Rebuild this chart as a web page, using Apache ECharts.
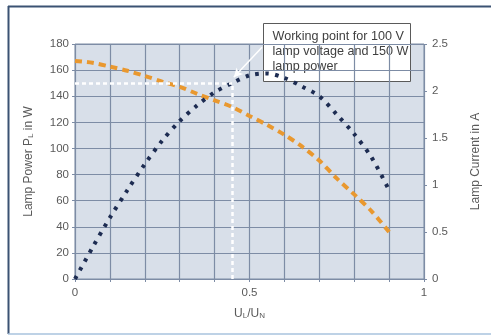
<!DOCTYPE html>
<html>
<head>
<meta charset="utf-8">
<script src="https://cdn.jsdelivr.net/npm/echarts@6/dist/echarts.min.js"></script>
<style>
  html, body { margin: 0; padding: 0; background: #ffffff; }
  #chart { width: 491px; height: 336px; }
</style>
</head>
<body>
<div id="chart"></div>
<script>
// Relative lamp voltage U_L/U_N
var voltageRatio = [0, 0.05, 0.1, 0.15, 0.2, 0.25, 0.3, 0.35, 0.4, 0.45, 0.5, 0.55, 0.6, 0.65, 0.7, 0.75, 0.8, 0.85, 0.9];
// Lamp power P_L in W
var lampPower = [0, 24, 47, 68, 88, 106, 121, 133, 143, 150, 156, 157.5, 154, 147.5, 140, 126, 111, 93, 68];
// Lamp current in A
var lampCurrent = [2.32, 2.30, 2.26, 2.215, 2.16, 2.10, 2.045, 1.97, 1.90, 1.83, 1.735, 1.64, 1.535, 1.41, 1.26, 1.07, 0.9, 0.72, 0.5];
// Working point (100 V lamp voltage, 150 W lamp power)
var workingPoint = [0.45, 150];
var xTickLabels = { 0: '0', 0.5: '0.5', 1: '1' };

function pairs(xs, ys) {
  return xs.map(function (x, i) { return [x, ys[i]]; });
}

var textColor = '#5a5a5a';
var gridColor = '#7d8ca5';
var font = 'Liberation Sans, Arial, sans-serif';

var chart = echarts.init(document.getElementById('chart'), null, { renderer: 'canvas' });

// main text plus lowered subscript
var subRich = {
  a: { fontSize: 12, color: textColor, fontFamily: font, lineHeight: 14, verticalAlign: 'bottom' },
  s: { fontSize: 8, color: textColor, fontFamily: font, lineHeight: 6, verticalAlign: 'bottom' }
};

chart.setOption({
  animation: false,
  backgroundColor: '#ffffff',
  grid: {
    left: 75, right: 67, top: 44, bottom: 57,
    show: true,
    backgroundColor: '#d8dfe9',
    borderColor: gridColor,
    borderWidth: 1
  },
  xAxis: {
    type: 'value',
    min: 0, max: 1, interval: 0.1,
    name: '{a|U}{s|L}{a|/U}{s|N}',
    nameLocation: 'middle',
    nameGap: 27,
    nameTextStyle: { rich: subRich },
    axisLine: { show: false },
    axisTick: { show: true, length: 3, lineStyle: { color: gridColor } },
    axisLabel: {
      color: textColor, fontSize: 11.5, fontFamily: font, margin: 8,
      formatter: function (v) {
        var k = Math.round(v * 10) / 10;
        return xTickLabels[k] !== undefined ? xTickLabels[k] : '';
      }
    },
    splitLine: { show: true, lineStyle: { color: gridColor, width: 1.2 } }
  },
  yAxis: [
    {
      type: 'value',
      min: 0, max: 180, interval: 20,
      name: '{a|Lamp Power P}{s|L}{a| in W}',
      nameLocation: 'middle',
      nameGap: 40,
      nameRotate: 90,
      nameTextStyle: { rich: subRich },
      axisLine: { show: false },
      axisTick: { show: true, length: 3, lineStyle: { color: gridColor } },
      axisLabel: { color: textColor, fontSize: 11.5, fontFamily: font, margin: 6 },
      splitLine: { show: true, lineStyle: { color: gridColor, width: 1.2 } }
    },
    {
      type: 'value',
      min: 0, max: 2.5, interval: 0.5,
      name: 'Lamp Current in A',
      nameLocation: 'middle',
      nameGap: 46,
      nameRotate: 90,
      nameTextStyle: { color: textColor, fontSize: 12, fontFamily: font },
      axisLine: { show: false },
      axisTick: { show: true, length: 3, lineStyle: { color: gridColor } },
      axisLabel: { color: textColor, fontSize: 11.5, fontFamily: font, margin: 8 },
      splitLine: { show: false }
    }
  ],
  series: [
    {
      name: 'Lamp current',
      type: 'line',
      yAxisIndex: 1,
      data: pairs(voltageRatio, lampCurrent),
      smooth: 0.3,
      showSymbol: false,
      z: 3,
      lineStyle: { color: '#e9982f', width: 4, type: [7, 5] }
    },
    {
      name: 'Lamp power',
      type: 'line',
      yAxisIndex: 0,
      data: pairs(voltageRatio, lampPower),
      smooth: 0.3,
      showSymbol: false,
      z: 4,
      lineStyle: { color: '#1d2c52', width: 4, type: [3.5, 6.5] },
      markLine: {
        silent: true,
        symbol: ['none', 'none'],
        label: { show: false },
        lineStyle: { color: '#ffffff', width: 2.5, type: [4, 3] },
        data: [
          [{ coord: [0, workingPoint[1]] }, { coord: [workingPoint[0], workingPoint[1]] }],
          [{ coord: [workingPoint[0], 0] }, { coord: [workingPoint[0], workingPoint[1]] }],
          [
            { coord: [0.536, 177.5], symbol: 'none', lineStyle: { type: 'solid', width: 1.5 } },
            { coord: [0.455, 154.5], symbol: 'arrow', symbolSize: [7, 9], lineStyle: { type: 'solid', width: 1.5 } }
          ]
        ]
      }
    }
  ],
  graphic: [
    {
      type: 'line',
      shape: { x1: 8.5, y1: 6, x2: 8.5, y2: 334 },
      style: { stroke: '#3b5273', lineWidth: 2 }
    },
    {
      type: 'line',
      shape: { x1: 8, y1: 6.5, x2: 491, y2: 6.5 },
      style: { stroke: '#3b5273', lineWidth: 2 }
    },
    {
      type: 'line',
      shape: { x1: 8, y1: 334, x2: 491, y2: 334 },
      style: { stroke: '#a9c3de', lineWidth: 1.5 }
    },
    {
      type: 'group',
      left: 263, top: 23,
      z: 100,
      children: [
        {
          type: 'rect',
          shape: { x: 0, y: 0, width: 147, height: 58 },
          style: { fill: '#ffffff', stroke: '#5a5a5a', lineWidth: 1 }
        },
        {
          type: 'text',
          x: 9, y: 6,
          style: {
            text: 'Working point for 100 V\nlamp voltage and 150 W\nlamp power',
            fill: '#404040',
            font: '12.6px ' + font,
            lineHeight: 15
          }
        }
      ]
    }
  ]
});
</script>
</body>
</html>
